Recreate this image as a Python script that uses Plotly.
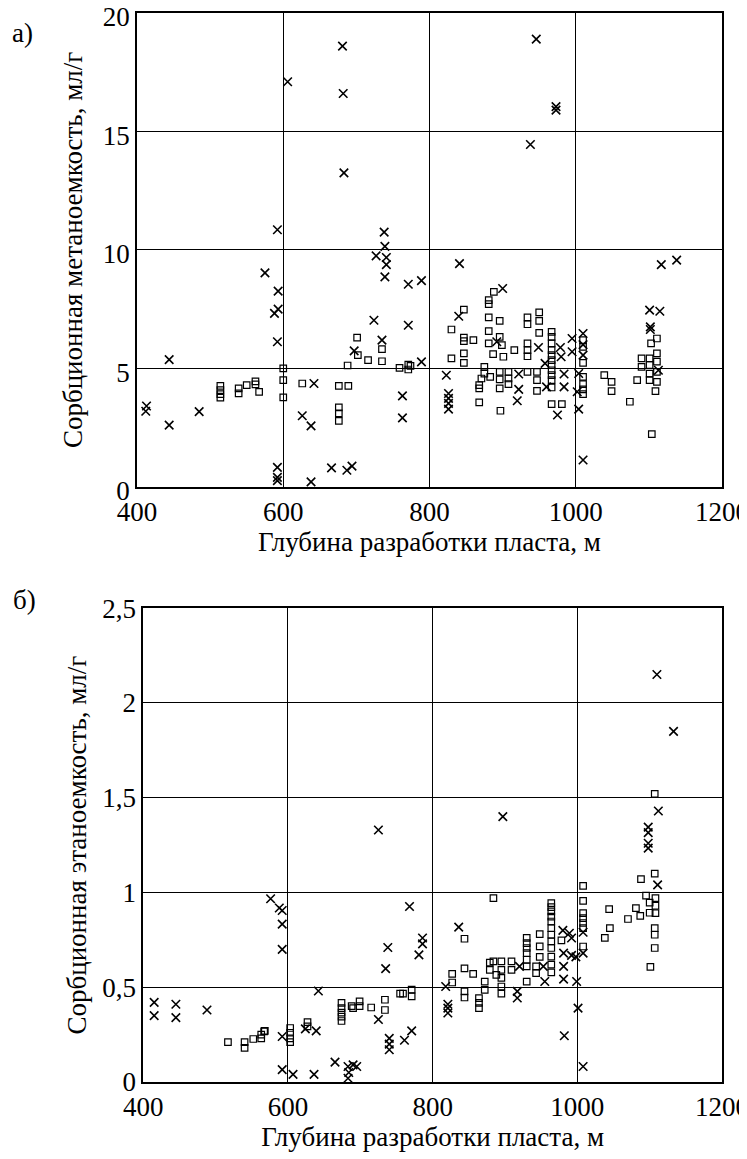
import plotly.graph_objects as go

# ---------- Panel a): methane sorption capacity vs depth ----------
methane_cross_depth = [681, 606, 682, 683, 592, 738, 739, 946, 973, 973, 938,
                       727, 741, 741, 739, 575, 771, 789, 593, 593, 588, 724, 771, 592, 735, 697, 789,
                       444, 642, 413, 412, 485, 444, 763, 763, 626, 638, 666, 687, 694, 638, 592, 592, 592,
                       841, 1117, 1138, 900, 840, 1101, 1115, 1102, 1102, 1010, 995, 995, 979, 980, 949,
                       892, 958, 1010, 823, 826, 826, 826, 826, 922, 922, 920, 984, 984, 960, 1004, 1002,
                       1004, 975, 1010, 1113, 1010]
methane_cross_val = [18.6, 17.1, 16.6, 13.25, 10.85, 10.75, 10.15, 18.9, 16.05, 15.9, 14.45,
                     9.75, 9.68, 9.38, 8.86, 9.03, 8.55, 8.7, 8.26, 7.5, 7.32, 7.03, 6.82, 6.12, 6.19, 5.74, 5.27,
                     5.37, 4.36, 3.41, 3.19, 3.17, 2.6, 3.84, 2.91, 3.0, 2.57, 0.8, 0.7, 0.87, 0.21, 0.82, 0.4, 0.26,
                     9.42, 9.38, 9.57, 8.37, 7.2, 7.46, 7.41, 6.75, 6.64, 6.47, 6.26, 5.7, 5.88, 5.49, 5.88,
                     6.12, 5.21, 5.56, 4.71, 3.94, 3.73, 3.52, 3.28, 4.76, 4.11, 3.63, 4.76, 4.22, 4.22, 4.78, 4.01,
                     3.28, 3.03, 1.13, 4.92, 6.0]

methane_sq_depth = [600, 600, 600, 514, 514, 514, 514, 539, 539, 550, 562, 562, 567, 626, 676, 689,
                    676, 676, 676, 701, 702, 716, 735, 735, 688, 759, 771, 771, 774,
                    830, 830, 847, 847, 847, 847, 847, 860, 888, 881, 881, 881, 881, 881, 896, 896, 899,
                    887, 901, 916, 875, 875, 871, 868, 868, 883, 896, 896, 896, 908, 908, 908, 868, 897,
                    934, 934, 934, 934, 934, 950, 950, 950, 934, 947, 947, 947,
                    967, 967, 967, 967, 967, 967, 967, 967, 967, 967, 967, 967, 981,
                    1010, 1010, 1010, 1010, 1010, 1010, 1010,
                    1039, 1049, 1049, 1074, 1084, 1090, 1090, 1101, 1101, 1101, 1101, 1104,
                    1111, 1111, 1111, 1111, 1111, 1103, 1109]
methane_sq_val = [5.0, 4.5, 3.77, 4.26, 4.08, 3.91, 3.76, 4.15, 3.94, 4.29, 4.45, 4.32, 4.01, 4.36, 4.26, 4.26,
                  3.35, 3.10, 2.78, 6.3, 5.56, 5.35, 5.81, 5.30, 5.12, 5.02, 5.16, 4.95, 5.1,
                  6.64, 5.42, 7.48, 6.3, 6.15, 5.63, 5.23, 6.19, 8.23, 7.88, 7.71, 7.15, 6.57, 6.05, 7.0, 6.33, 5.98,
                  5.6, 5.49, 5.77, 5.06, 4.78, 4.57, 4.29, 4.15, 4.64, 4.85, 4.53, 4.15, 4.85, 4.57, 4.33, 3.56, 3.21,
                  7.15, 6.86, 6.05, 5.77, 5.51, 7.36, 7.0, 6.5, 4.85, 4.85, 4.5, 4.05,
                  6.54, 6.33, 6.05, 5.77, 5.56, 5.35, 5.14, 4.92, 4.71, 4.5, 4.19, 3.49, 3.49,
                  6.19, 5.91, 5.23, 4.64, 4.33, 4.11, 3.91,
                  4.71, 4.43, 4.04, 3.59, 4.5, 5.42, 5.06, 5.42, 5.14, 4.78, 4.5, 2.22,
                  6.26, 5.63, 5.28, 4.85, 4.43, 6.05, 4.04]

# ---------- Panel б): ethane sorption capacity vs depth ----------
ethane_cross_depth = [725, 1110, 1133, 1112, 897, 1098, 1098, 1098, 1098, 1111,
                      576, 588, 592, 592, 592, 768, 786, 786, 781, 738, 735, 642, 415, 415, 445, 445, 488,
                      725, 771, 761, 740, 740, 740, 624, 639, 592, 592, 607, 636, 665, 683, 695, 684, 683, 690,
                      836, 818, 821, 821, 821, 917, 917, 920, 980, 989, 992, 981, 992, 998, 1008, 981, 981,
                      955, 999, 1008, 1001, 982, 1008, 953]
ethane_cross_val = [1.33, 2.15, 1.85, 1.43, 1.40, 1.345, 1.316, 1.26, 1.234, 1.04,
                    0.967, 0.918, 0.905, 0.833, 0.70, 0.926, 0.76, 0.729, 0.671, 0.71, 0.598, 0.48, 0.42, 0.35,
                    0.41, 0.34, 0.38, 0.33, 0.27, 0.22, 0.23, 0.20, 0.17, 0.28, 0.27, 0.24, 0.065, 0.04, 0.04,
                    0.105, 0.082, 0.082, 0.05, 0.02, 0.09,
                    0.817, 0.504, 0.41, 0.39, 0.364, 0.478, 0.443, 0.61, 0.80, 0.785, 0.76, 0.68, 0.668, 0.66,
                    0.68, 0.61, 0.543, 0.53, 0.53, 0.79, 0.39, 0.244, 0.082, 0.61]

ethane_sq_depth = [517, 540, 540, 552, 563, 563, 567, 568, 603, 603, 603, 603, 627, 627,
                   674, 674, 674, 674, 674, 688, 690, 699, 699, 715, 734, 734, 755, 759, 771, 771,
                   884, 844, 827, 827, 844, 856, 844, 844, 864, 864, 864, 872, 872, 879, 879, 884,
                   895, 895, 895, 895, 895, 909, 909, 888,
                   930, 930, 930, 930, 930, 930, 930, 948, 948, 948, 943, 943,
                   964, 964, 964, 964, 964, 964, 964, 964, 964, 964, 964, 964, 978,
                   1008, 1008, 1008, 1008, 1008, 1008, 1008,
                   1038, 1045, 1044, 1070, 1081, 1088, 1107, 1087, 1095, 1100, 1108, 1108, 1108, 1100,
                   1107, 1107, 1107, 1101, 1107]
ethane_sq_val = [0.21, 0.21, 0.18, 0.227, 0.23, 0.25, 0.267, 0.27, 0.285, 0.26, 0.23, 0.21, 0.316, 0.294,
                 0.417, 0.39, 0.366, 0.345, 0.322, 0.40, 0.39, 0.425, 0.40, 0.393, 0.434, 0.38, 0.466, 0.466,
                 0.487, 0.452,
                 0.97, 0.756, 0.571, 0.525, 0.60, 0.571, 0.478, 0.446, 0.443, 0.417, 0.39, 0.53, 0.486, 0.63,
                 0.592, 0.636, 0.636, 0.592, 0.549, 0.504, 0.466, 0.636, 0.592, 0.565,
                 0.76, 0.733, 0.707, 0.68, 0.645, 0.61, 0.53, 0.78, 0.716, 0.66, 0.61, 0.575,
                 0.944, 0.923, 0.90, 0.873, 0.847, 0.812, 0.777, 0.742, 0.707, 0.662, 0.619, 0.578, 0.747,
                 1.035, 0.956, 0.891, 0.865, 0.839, 0.812, 0.715,
                 0.76, 0.812, 0.912, 0.86, 0.917, 1.07, 1.10, 0.877, 0.983, 0.947, 0.97, 0.93, 0.891, 0.893,
                 0.812, 0.777, 0.707, 0.607, 1.52]

x_ticks = [400, 600, 800, 1000, 1200]
y1_ticks = [0, 5, 10, 15, 20]
y2_ticks = [0, 0.5, 1, 1.5, 2, 2.5]
y2_ticktext = ["0", "0,5", "1", "1,5", "2", "2,5"]

x_title = "Глубина разработки пласта, м"
y1_title = "Сорбционная метаноемкость, мл/г"
y2_title = "Сорбционная этаноемкость, мл/г"

FONT = "Liberation Serif, DejaVu Serif, serif"
FS = 27
cross = dict(symbol="x-thin-open", size=8.5, color="black", line=dict(color="black", width=1.6))
square = dict(symbol="square-open", size=6.5, color="black", line=dict(color="black", width=1.2))

fig = go.Figure()
fig.add_trace(go.Scatter(x=methane_sq_depth, y=methane_sq_val, mode="markers", marker=square,
                         xaxis="x", yaxis="y", cliponaxis=False, showlegend=False))
fig.add_trace(go.Scatter(x=methane_cross_depth, y=methane_cross_val, mode="markers", marker=cross,
                         xaxis="x", yaxis="y", cliponaxis=False, showlegend=False))
fig.add_trace(go.Scatter(x=ethane_sq_depth, y=ethane_sq_val, mode="markers", marker=square,
                         xaxis="x2", yaxis="y2", cliponaxis=False, showlegend=False))
fig.add_trace(go.Scatter(x=ethane_cross_depth, y=ethane_cross_val, mode="markers", marker=cross,
                         xaxis="x2", yaxis="y2", cliponaxis=False, showlegend=False))

axis_common = dict(showline=True, mirror=True, linecolor="black", linewidth=1.6,
                   showgrid=True, gridcolor="black", gridwidth=1.4, zeroline=False,
                   ticks="", automargin=False, ticklabeloverflow="allow",
                   tickfont=dict(family=FONT, size=FS, color="black"))

title_font = dict(family=FONT, size=FS, color="black")

# the page body adds an 8 px offset; margins are set so the plot lands where the reference has it
L, R, T, B = 129, 33, 4.7, 84.7
fig.update_layout(
    width=747, height=1159,
    margin=dict(l=L, r=R, t=T, b=B),
    paper_bgcolor="white", plot_bgcolor="white",
    font=dict(family=FONT, color="black"),
    xaxis=dict(domain=[0, 1], range=[400, 1200], tickvals=x_ticks, anchor="y",
               title=dict(text=x_title, font=title_font, standoff=3), **axis_common),
    yaxis=dict(domain=[0.5568, 1.0], range=[0, 20], tickvals=y1_ticks, anchor="x", ticklabelshift=4,
               title=dict(text=y1_title, font=title_font, standoff=12), **axis_common),
    xaxis2=dict(domain=[0.0108, 1], range=[400, 1200], tickvals=x_ticks, anchor="y2",
                title=dict(text=x_title, font=title_font, standoff=5), **axis_common),
    yaxis2=dict(domain=[0, 0.4432], range=[0, 2.5], tickvals=y2_ticks, ticktext=y2_ticktext, anchor="x2",
                title=dict(text=y2_title, font=title_font, standoff=8), **axis_common),
)

plot_w = 747 - L - R
plot_h = 1159 - T - B
def px_to_paper(px, py):
    fx, fy = px - 8, py - 8
    return (fx - L) / plot_w, 1 - (fy - T) / plot_h
ax, ay = px_to_paper(22, 33)
bx, by = px_to_paper(25, 600)
fig.add_annotation(text="а)", x=ax, y=ay, xref="paper", yref="paper", showarrow=False,
                   xanchor="center", yanchor="middle",
                   font=dict(family=FONT, size=FS, color="black"))
fig.add_annotation(text="б)", x=bx, y=by, xref="paper", yref="paper", showarrow=False,
                   xanchor="center", yanchor="middle",
                   font=dict(family=FONT, size=FS, color="black"))

fig.write_html("out.html")
